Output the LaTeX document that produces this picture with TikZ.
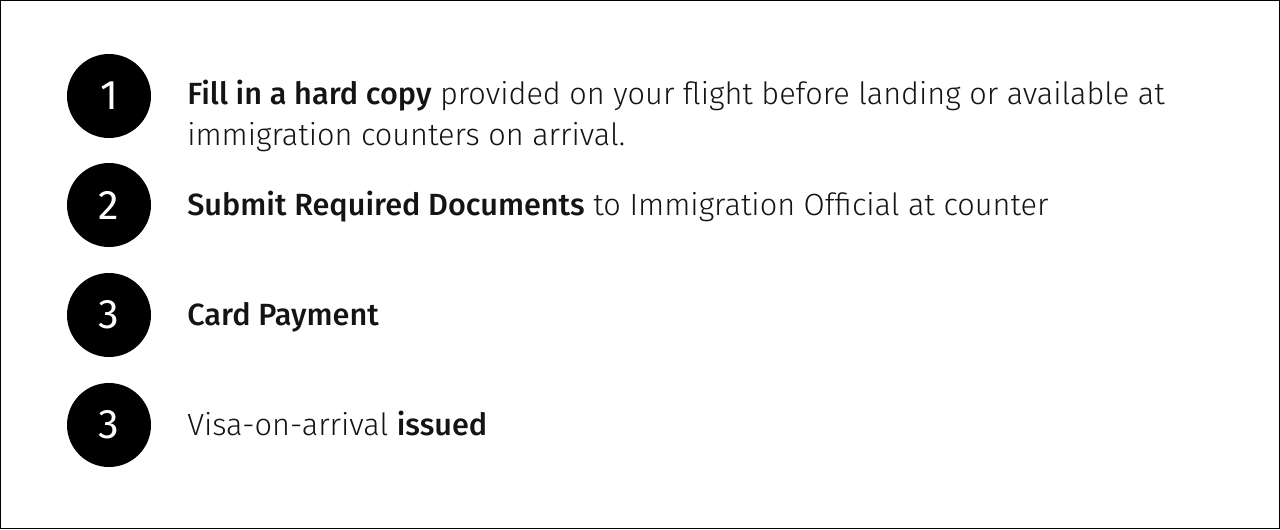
\documentclass[tikz,border=0pt]{standalone}
\usepackage{fontspec}
\setmainfont{Fira Sans}[UprightFont=* Light, BoldFont=* Medium]
\newfontfamily\numfont{Fira Sans}
\usetikzlibrary{positioning}
\tikzset{
  numdot/.style={circle, fill=black, inner sep=0pt, minimum size=63pt,
    text=white, font=\numfont\fontsize{31}{31}\selectfont},
  steptext/.style={anchor=base west, align=left, inner sep=0pt,
    text=black!92, font=\fontsize{23}{30.75}\selectfont}
}
\begin{document}
\begin{tikzpicture}[x=0.75pt, y=-0.75pt]
      \useasboundingbox (0,0) rectangle (1280,529);
      \draw[line width=0.75pt] (0.5,0.5) rectangle (1279.5,528.5);
      \draw
        (109,96) node[numdot] (1){1}
        (109,205) node[numdot] (2){2}
        (109,315) node[numdot] (3){3}
        (109,425) node[numdot] (4){3};
      \draw
        (187,145) node[steptext] (t1){\textbf{Fill in a hard copy} provided on your flight before landing or available at\\immigration counters on arrival.}
        (187,215) node[steptext] (t2){\textbf{Submit Required Documents} to Immigration Official at counter}
        (187,325) node[steptext] (t3){\textbf{Card Payment}}
        (187,435) node[steptext] (t4){Visa-on-arrival \textbf{issued}};
    \end{tikzpicture}
\end{document}
